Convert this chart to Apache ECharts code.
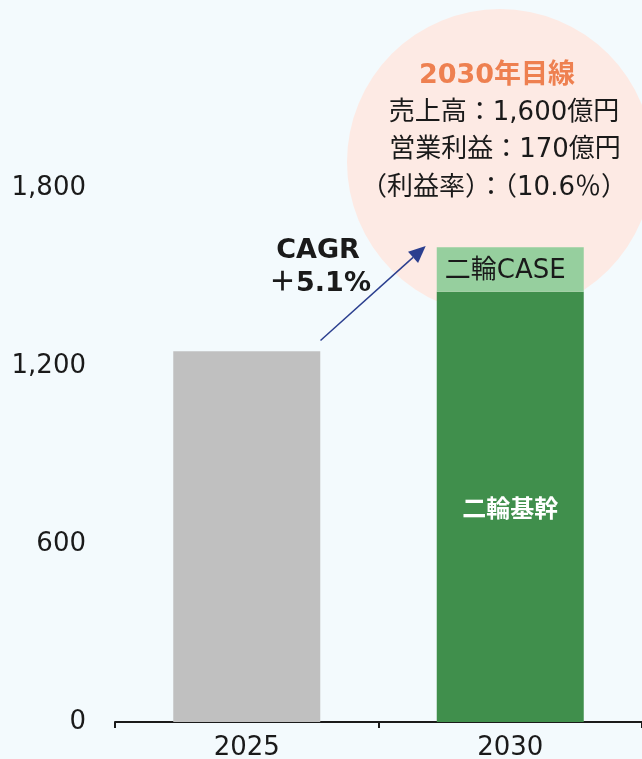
<!DOCTYPE html>
<html>
<head>
<meta charset="utf-8">
<script src="https://cdn.jsdelivr.net/npm/echarts@6/dist/echarts.min.js"></script>
<style>
html,body{margin:0;padding:0;background:#f3fafd;}
#chart{width:642px;height:759px;}
</style>
</head>
<body>
<div id="chart"></div>
<script>
const categories = ['2025', '2030'];
const actualValues = [1250, null];
const coreValues = [null, 1450];
const caseValues = [null, 150];
const yTicks = [0, 600, 1200, 1800];
const coreLabel = '二輪基幹';
const caseLabel = '二輪CASE';
const bubbleLines = ['2030年目線', '売上高：1,600億円', '営業利益：170億円', '（利益率）：（10.6％）'];
const cagrLines = ['CAGR', '＋5.1%'];

const FONT = '"DejaVu Sans", "Noto Sans CJK JP", sans-serif';
const chart = echarts.init(document.getElementById('chart'), null, {renderer: 'canvas'});

const tipX = 425.7, tipY = 246, startX = 320.5, startY = 340.5;
const dx = tipX - startX, dy = tipY - startY, len = Math.hypot(dx, dy);
const ux = dx / len, uy = dy / len, nx = -uy, ny = ux;
const headL = 17, headW = 7.5;
const bx = tipX - headL * ux, by = tipY - headL * uy;

function txt(text, x, y, size, weight, color) {
  return {type: 'text', z: 100, style: {text: text, x: x, y: y, fill: color, fontSize: size, fontWeight: weight, fontFamily: FONT, align: 'center', verticalAlign: 'middle', textAlign: 'center', textVerticalAlign: 'middle'}};
}

chart.setOption({
  backgroundColor: '#f3fafd',
  animation: false,
  grid: {left: 115, right: 0, top: 188, bottom: 37, containLabel: false, outerBoundsMode: 'none'},
  xAxis: {
    type: 'category', data: categories,
    axisLine: {lineStyle: {color: '#1a1a1a', width: 2}},
    axisTick: {show: true, length: 6, lineStyle: {color: '#1a1a1a', width: 2}},
    axisLabel: {color: '#1a1a1a', fontSize: 26, fontFamily: FONT, margin: 13}
  },
  yAxis: {
    type: 'value', min: yTicks[0], max: yTicks[yTicks.length - 1], interval: yTicks[1] - yTicks[0],
    axisLine: {show: false}, axisTick: {show: false}, splitLine: {show: false},
    axisLabel: {color: '#1a1a1a', fontSize: 26, fontFamily: FONT, margin: 29,
      formatter: v => v.toLocaleString('en-US')}
  },
  series: [
    {type: 'bar', name: '実績', stack: 'total', data: actualValues, barWidth: 147, z: 2,
      itemStyle: {color: '#c0c0c0'}},
    {type: 'bar', name: coreLabel, stack: 'total', data: coreValues, barWidth: 147, z: 2,
      itemStyle: {color: '#408f4c'},
      label: {show: true, position: 'inside', formatter: coreLabel, color: '#ffffff', fontSize: 24, fontWeight: 'bold', fontFamily: FONT, offset: [0, 4]}},
    {type: 'bar', name: caseLabel, stack: 'total', data: caseValues, barWidth: 147, z: 2,
      itemStyle: {color: '#96cf9e'},
      label: {show: true, position: 'inside', formatter: caseLabel, color: '#1a1a1a', fontSize: 26, fontFamily: FONT, offset: [-5, 2]}}
  ],
  graphic: [
    {type: 'circle', z: -10, shape: {cx: 500, cy: 162, r: 153}, style: {fill: '#fdeae4'}, silent: true},
    txt(bubbleLines[0], 497, 76, 27, 'bold', '#ee8050'),
    txt(bubbleLines[1], 504, 113, 26, 'normal', '#1a1a1a'),
    txt(bubbleLines[2], 505, 150, 26, 'normal', '#1a1a1a'),
    txt(bubbleLines[3], 494, 188, 26, 'normal', '#1a1a1a'),
    txt(cagrLines[0], 318, 251, 27, 'bold', '#1a1a1a'),
    txt(cagrLines[1], 320, 284, 27, 'bold', '#1a1a1a'),
    {type: 'line', z: 100, shape: {x1: startX, y1: startY, x2: bx, y2: by}, style: {stroke: '#2b3f8f', lineWidth: 1.5}},
    {type: 'polygon', z: 100, shape: {points: [[tipX, tipY], [bx + nx * headW, by + ny * headW], [bx - nx * headW, by - ny * headW]]}, style: {fill: '#2b3f8f'}}
  ]
});
</script>
</body>
</html>
